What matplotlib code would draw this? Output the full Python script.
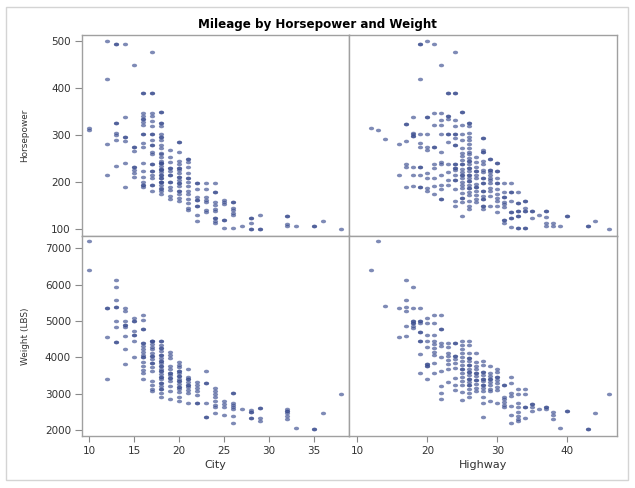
import numpy as np
import matplotlib.pyplot as plt
from matplotlib.path import Path
from matplotlib.patches import Rectangle

plt.rcParams['font.family'] = ['DejaVu Sans']

# 값은 그림에서 읽은 것 (겹친 점은 반복해서 넣음)
city_cols = [10, 12, 13, 14, 15, 16, 17, 18, 19, 20, 21, 22, 23, 24, 25, 26, 27, 28, 29, 32, 33, 35, 36, 38]
hwy_cols = [12, 13, 14, 16, 17, 18, 19, 20, 21, 22, 23, 24, 25, 26, 27, 28, 29, 30, 31, 32, 33, 34, 35, 36, 37, 38, 39, 40, 43, 44, 46]

hp_at_city = [
    [316, 310],
    [500, 420, 282, 216],
    [493, 493, 325, 325, 304, 300, 290, 235],
    [493, 339, 296, 296, 287, 240, 189],
    [450, 275, 275, 267, 233, 233, 226, 219, 211],
    [390, 390, 348, 341, 335, 335, 327, 321, 302, 302, 284, 274, 240, 224, 211, 201, 194, 194, 189],
    [477, 390, 390, 348, 340, 330, 320, 302, 302, 289, 280, 280, 265, 260, 239, 239, 224, 224, 215, 208, 194, 194, 181],
    [350, 350, 325, 325, 320, 302, 296, 296, 290, 279, 272, 263, 259, 253, 246, 240, 240, 234, 228, 228,
     222, 215, 215, 208, 201, 201, 194, 187, 181, 174, 240, 225, 210, 200, 185],
    [268, 253, 243, 230, 230, 223, 215, 215, 201, 201, 190, 184, 170, 164],
    [286, 286, 265, 245, 238, 230, 230, 225, 219, 212, 212, 205, 198, 198, 191, 182, 182, 174, 167, 161],
    [249, 249, 242, 233, 220, 209, 209, 201, 191, 182, 175, 165, 155, 145, 141],
    [199, 199, 186, 169, 163, 163, 150, 150, 130, 118],
    [199, 186, 169, 163, 158, 140, 136],
    [199, 179, 179, 158, 151, 144, 138, 123, 123, 118, 113],
    [162, 157, 153, 119, 119, 103],
    [159, 159, 146, 140, 135, 130, 103],
    [108],
    [124, 124, 113, 101, 101],
    [130, 101, 101],
    [128, 128, 112, 106],
    [106],
    [106, 106],
    [117],
    [100],
]

wt_at_city = [
    [7190, 6400],
    [5369, 5369, 4572, 3400],
    [6120, 5946, 5580, 5397, 5397, 4994, 4847, 4435, 4435],
    [5369, 5268, 4994, 4902, 4902, 4847, 4591, 4224, 3812],
    [5094, 4994, 4994, 4737, 4627, 4627, 4462, 4023],
    [5168, 5030, 4792, 4792, 4389, 4389, 4316, 4224, 4151, 4078, 4023, 4023, 3876, 3766, 3657, 3565, 3400],
    [4444, 4444, 4444, 4371, 4298, 4224, 4133, 4041, 4041, 3950, 3858, 3858, 3748, 3638, 3363, 3254, 3144, 3070],
    [4444, 4444, 4352, 4261, 4261, 4169, 4078, 4078, 3986, 3913, 3913, 3840, 3766, 3766, 3693, 3620, 3620,
     3547, 3473, 3473, 3400, 3309, 3309, 3217, 3125, 3125, 3034, 2906],
    [4151, 4078, 3986, 3766, 3675, 3583, 3583, 3510, 3437, 3437, 3345, 3217, 3089, 2851],
    [3876, 3803, 3730, 3638, 3638, 3565, 3492, 3492, 3418, 3345, 3345, 3272, 3199, 3199, 3125, 3052, 2924, 2796],
    [3693, 3473, 3400, 3400, 3327, 3254, 3254, 3181, 3107, 3034, 2759],
    [3327, 3235, 3162, 3089, 2961, 2759, 2759],
    [3620, 3309, 3309, 2759, 2374, 2374],
    [3162, 3089, 2997, 2906, 2796, 2704, 2631, 2484],
    [2796, 2722, 2649, 2429],
    [3015, 3015, 2759, 2704, 2649, 2594, 2393, 2191],
    [2594],
    [2558, 2503, 2503, 2338, 2338],
    [2612, 2612, 2338, 2246],
    [2576, 2521, 2521, 2466, 2393, 2319],
    [2072],
    [2045, 2045],
    [2484],
    [2988],
]

hp_at_hwy = [
    [316],
    [310],
    [292],
    [282, 215],
    [324, 324, 287, 239, 232, 189],
    [339, 304, 302, 298, 298, 233, 215, 191],
    [494, 494, 420, 303, 284, 274, 233, 233, 215, 189, 189],
    [501, 339, 339, 302, 274, 269, 219, 209, 188, 181],
    [494, 348, 321, 274, 274, 239, 231, 209, 192, 174],
    [450, 348, 332, 321, 302, 265, 243, 238, 216, 194, 185, 164, 164],
    [390, 390, 340, 340, 334, 302, 302, 286, 238, 222, 204, 194],
    [477, 390, 390, 332, 320, 302, 302, 293, 280, 280, 239, 239, 231, 231, 225, 215, 204, 204, 185, 160, 150],
    [350, 350, 321, 302, 290, 273, 263, 256, 248, 239, 239, 229, 222, 215, 215, 208, 201, 194, 187, 178,
     167, 167, 158, 128],
    [325, 325, 320, 304, 296, 289, 282, 272, 265, 259, 252, 245, 238, 231, 224, 216, 209, 202, 195, 188,
     180, 173, 161, 150, 144, 245, 231, 216, 202, 188],
    [253, 243, 233, 223, 216, 208, 197, 189, 182, 173, 165, 158, 223, 189],
    [293, 293, 269, 265, 265, 245, 239, 225, 221, 209, 209, 199, 199, 182, 182, 170, 165, 165, 150, 150, 143],
    [249, 249, 226, 226, 222, 216, 209, 204, 198, 188, 182, 170, 150],
    [240, 240, 223, 223, 209, 199, 199, 185, 175, 167, 160, 150, 137],
    [199, 180, 168, 168, 158, 154, 148, 119, 119, 114],
    [199, 180, 180, 160, 137, 137, 123, 123, 104],
    [180, 155, 155, 138, 138, 128, 128, 103, 103],
    [161, 161, 145, 138, 138, 103, 103],
    [138, 138, 124],
    [130],
    [138, 138, 126, 113, 107],
    [113, 107],
    [107],
    [128, 128],
    [107, 107],
    [117],
    [100],
]

wt_at_hwy = [
    [6400],
    [7190],
    [5415],
    [5360, 4572],
    [6120, 5580, 5378, 5268, 4865, 4591],
    [5946, 5360, 5012, 5012, 4939, 4939, 4865, 4810],
    [5360, 5012, 5012, 4939, 4710, 4710, 4444, 4444, 4096, 3565],
    [5085, 4939, 4627, 4462, 4298, 3821, 3821, 3766, 3766, 3400],
    [5177, 4957, 4627, 4462, 4371, 4261, 4151, 4059, 3858, 3565],
    [5158, 4792, 4792, 4407, 4316, 4004, 3638, 3217, 3015, 2851],
    [4407, 4298, 4133, 4041, 3932, 3821, 3693, 3327],
    [4389, 4389, 4041, 4041, 3950, 3840, 3711, 3437, 3235, 3107],
    [4444, 4352, 4224, 4114, 4004, 3895, 3803, 3675, 3675, 3583, 3473, 3345, 3235, 3052, 2833],
    [4444, 4352, 4133, 3986, 3895, 3803, 3693, 3602, 3510, 3418, 3327, 3235, 3125, 3034, 2924,
     3986, 3803, 3602, 3418, 3235],
    [4114, 3876, 3766, 3675, 3583, 3492, 3382, 3272, 3162, 3070, 3583, 3382],
    [3895, 3803, 3602, 3510, 3418, 3345, 3254, 3162, 3070, 2924, 2759, 2374, 3602, 3418, 3254],
    [3766, 3583, 3492, 3418, 3327, 3235, 3144, 3070, 2796, 3418],
    [3675, 3602, 3473, 3382, 3290, 3199, 3107, 2759, 3473],
    [3235, 3235, 2924, 2851, 2777, 2704, 2649],
    [3455, 3309, 3034, 2942, 2667, 2429, 2191],
    [3144, 2997, 2759, 2649, 2503, 2393, 2319, 2246],
    [3144, 2997, 2649, 2649, 2338],
    [2722, 2722, 2649, 2521],
    [2594],
    [2649, 2649, 2576],
    [2503, 2411, 2319],
    [2072],
    [2521, 2521],
    [2045, 2045],
    [2484],
    [2988],
]

city_ticks = [10, 15, 20, 25, 30, 35]
hwy_ticks = [10, 20, 30, 40]
hp_ticks = [100, 200, 300, 400, 500]
wt_ticks = [2000, 3000, 4000, 5000, 6000, 7000]


def flatten(cols, vals):
    xs, ys = [], []
    for c, v in zip(cols, vals):
        xs += [c] * len(v)
        ys += v
    return xs, ys


# 가로로 살짝 긴 타원 마커
t = np.linspace(0, 2 * np.pi, 40)
dot = Path(np.column_stack([1.45 * np.cos(t), np.sin(t)]))

W, H = 635, 488
fig = plt.figure(figsize=(W / 100, H / 100), dpi=100)


def box(x0, y0, x1, y1):
    return [x0 / W, 1 - y1 / H, (x1 - x0) / W, (y1 - y0) / H]


ax_tl = fig.add_axes(box(82, 35, 349, 236))
ax_tr = fig.add_axes(box(349, 35, 617, 236))
ax_bl = fig.add_axes(box(82, 236, 349, 436))
ax_br = fig.add_axes(box(349, 236, 617, 436))

panels = [
    (ax_tl, city_cols, hp_at_city),
    (ax_tr, hwy_cols, hp_at_hwy),
    (ax_bl, city_cols, wt_at_city),
    (ax_br, hwy_cols, wt_at_hwy),
]
for ax, cols, vals in panels:
    x, y = flatten(cols, vals)
    ax.scatter(x, y, s=14, marker=dot, color='#3B4D8F', alpha=0.65, linewidths=0)
    for sp in ax.spines.values():
        sp.set_color('#A0A0A0')
        sp.set_linewidth(1.0)
    ax.tick_params(length=0, labelleft=False, labelbottom=False)

city_lim = (9.19, 38.89)
hwy_lim = (8.81, 47.1)
hp_lim = (85.8, 512.7)
wt_lim = (1843, 7338)

for ax in (ax_tl, ax_bl):
    ax.set_xlim(city_lim)
    ax.set_xticks(city_ticks)
for ax in (ax_tr, ax_br):
    ax.set_xlim(hwy_lim)
    ax.set_xticks(hwy_ticks)
for ax in (ax_tl, ax_tr):
    ax.set_ylim(hp_lim)
    ax.set_yticks(hp_ticks)
for ax in (ax_bl, ax_br):
    ax.set_ylim(wt_lim)
    ax.set_yticks(wt_ticks)

for ax in (ax_tl, ax_bl):
    ax.tick_params(axis='y', left=True, labelleft=True, length=5, width=0.8,
                   color='#8A8A8A', labelsize=7.5, labelcolor='#333333', pad=3)
for ax in (ax_bl, ax_br):
    ax.tick_params(axis='x', bottom=True, labelbottom=True, length=4, width=0.8,
                   color='#8A8A8A', labelsize=7.5, labelcolor='#333333', pad=3)

fig.text(317 / W, 1 - 24.5 / H, 'Mileage by Horsepower and Weight', ha='center', va='center',
         fontsize=8.6, fontweight='bold', color='black')
fig.text(215.5 / W, 1 - 464.5 / H, 'City', ha='center', va='center', fontsize=8, color='#333333')
fig.text(483 / W, 1 - 464.5 / H, 'Highway', ha='center', va='center', fontsize=8, color='#333333')
fig.text(25 / W, 1 - 135.5 / H, 'Horsepower', ha='center', va='center', rotation=90,
         fontsize=6.4, color='#333333')
fig.text(25 / W, 1 - 336 / H, 'Weight (LBS)', ha='center', va='center', rotation=90,
         fontsize=6.4, color='#333333')

# 바깥 테두리
fig.add_artist(Rectangle((5.7 / W, 1 - 480 / H), 622.6 / W, 473.3 / H, transform=fig.transFigure,
                         fill=False, edgecolor='#D4D4D4', linewidth=1.0))

fig.savefig('out.png', dpi=100)
